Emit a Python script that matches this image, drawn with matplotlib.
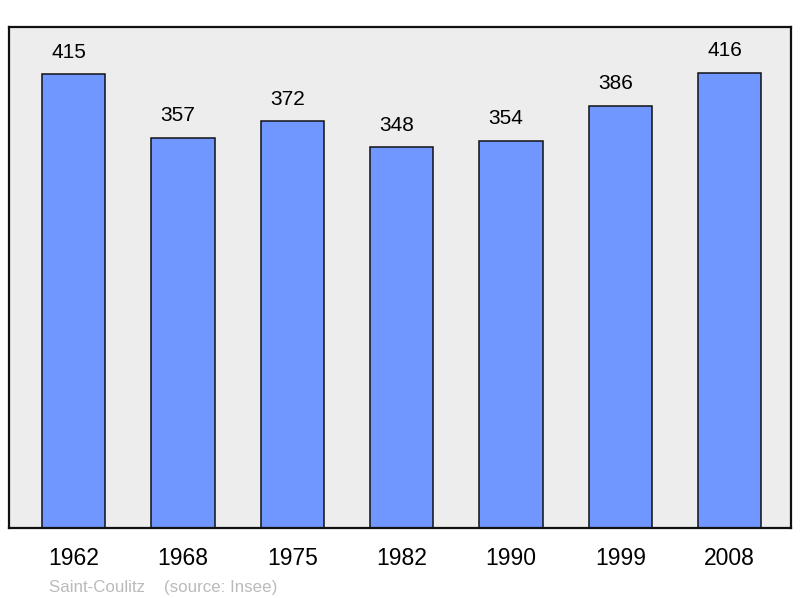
import matplotlib.pyplot as plt

years = ["1962", "1968", "1975", "1982", "1990", "1999", "2008"]
population = [415, 357, 372, 348, 354, 386, 416]

plt.rcParams['font.family'] = ['Liberation Sans', 'DejaVu Sans']

fig = plt.figure(figsize=(8, 5.98), dpi=100)
ax = fig.add_axes([0.01125, 0.117, 0.9775, 0.8378])
ax.set_facecolor('#ededed')

x = range(len(years))
ax.bar(x, population, width=0.58, color='#7097ff', edgecolor='#111111', linewidth=1.1, zorder=2)
for xi, v in zip(x, population):
    ax.annotate(str(v), (xi, v), xytext=(-3.5, 9), textcoords='offset points',
                ha='center', va='bottom', fontsize=15)

ax.set_xlim(-0.59, 6.56)
ax.set_ylim(0, 458)
ax.set_xticks(list(x))
ax.set_xticklabels(years, fontsize=16.5)
ax.tick_params(axis='x', length=0, pad=14)
ax.set_yticks([])
for s in ax.spines.values():
    s.set_linewidth(1.6)
    s.set_color('#111111')

fig.text(0.061, 0.01, "Saint-Coulitz    (source: Insee)", fontsize=12.2, color='#bbbbbb')

fig.savefig("out.png")
